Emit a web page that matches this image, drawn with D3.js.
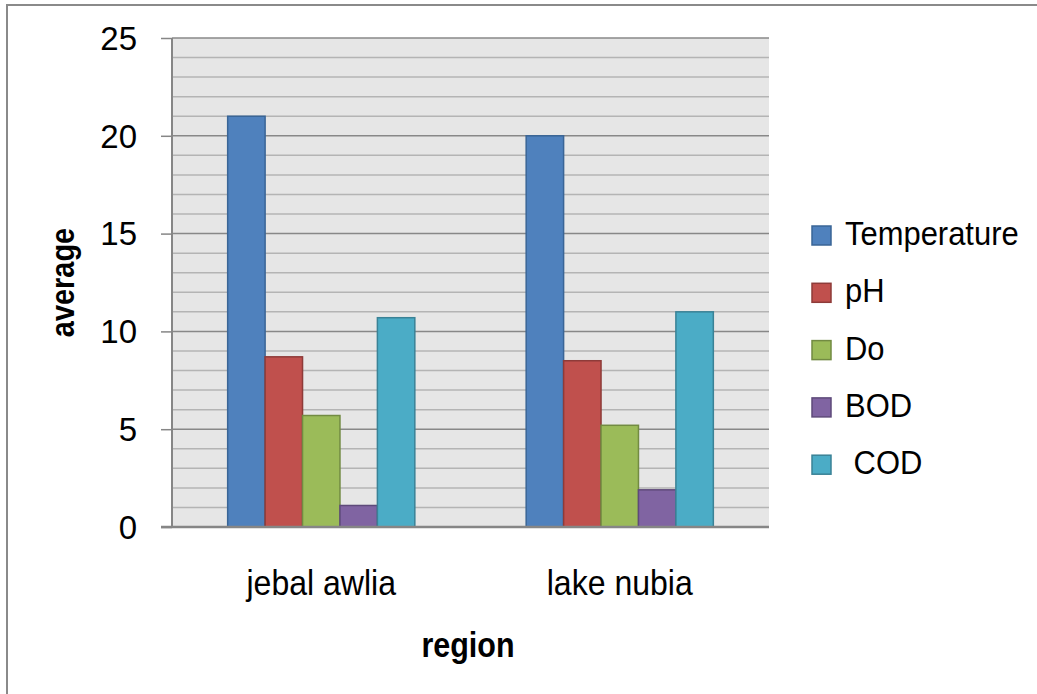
<!DOCTYPE html>
<html>
<head>
<meta charset="utf-8">
<script src="https://cdn.jsdelivr.net/npm/d3@7"></script>
<style>
  html, body { margin: 0; padding: 0; background: #fff; }
  svg { display: block; }
</style>
</head>
<body>
<svg id="chart" width="1037" height="694"></svg>
<script>
// Average water-quality parameters per region
const regions = ["jebal awlia", "lake nubia"];
const parameters = ["Temperature", "pH", "Do", "BOD", " COD"];
const temperature = [21, 20];
const ph = [8.7, 8.5];
const dissolvedOxygen = [5.7, 5.2];
const bod = [1.1, 1.9];
const cod = [10.7, 11.0];
const majorTicks = [0, 5, 10, 15, 20, 25];

const seriesValues = [temperature, ph, dissolvedOxygen, bod, cod];
const fills = ["#4F81BD", "#C0504D", "#9BBB59", "#8064A2", "#4BACC6"];
const strokes = ["#3A6596", "#8E3B39", "#728B42", "#5E4A7A", "#3A8296"];

const sans = "'Liberation Sans', Arial, sans-serif";

const svg = d3.select("#chart");

// outer chart frame
svg.append("rect")
  .attr("x", 7).attr("y", 5).attr("width", 1100).attr("height", 800)
  .attr("fill", "none").attr("stroke", "#8a8a8a").attr("stroke-width", 2);

const plot = { left: 172, right: 769, top: 38, bottom: 527 };

const y = d3.scaleLinear().domain([0, 25]).range([plot.bottom, plot.top]);
const x0 = d3.scaleBand().domain(regions).range([plot.left, plot.right])
  .paddingInner(0.373).paddingOuter(0.1865);
const x1 = d3.scaleBand().domain(parameters).range([0, x0.bandwidth()]);

// condensed text helper: horizontal squeeze around the anchor point
function condensed(sel, x, y, sx, rotate) {
  return sel.attr("x", 0).attr("y", 0)
    .attr("transform", `translate(${x},${y})${rotate ? ` rotate(${rotate})` : ""} scale(${sx},1)`);
}

// plot background
svg.append("rect")
  .attr("x", plot.left).attr("y", plot.top)
  .attr("width", plot.right - plot.left).attr("height", plot.bottom - plot.top)
  .attr("fill", "#e6e6e6");

// minor gridlines every unit
const minor = d3.range(1, 25).filter(v => v % 5 !== 0);
svg.append("g").selectAll("line").data(minor).join("line")
  .attr("x1", plot.left).attr("x2", plot.right)
  .attr("y1", d => y(d)).attr("y2", d => y(d))
  .attr("stroke", "#b4b4b4").attr("stroke-width", 1.5);

// major gridlines
svg.append("g").selectAll("line").data(majorTicks.filter(v => v > 0)).join("line")
  .attr("x1", plot.left).attr("x2", plot.right)
  .attr("y1", d => y(d)).attr("y2", d => y(d))
  .attr("stroke", "#888888").attr("stroke-width", 1.5);

// bars
const groups = svg.append("g").selectAll("g").data(regions).join("g")
  .attr("transform", r => `translate(${x0(r)},0)`);
groups.selectAll("rect")
  .data((r, ri) => parameters.map((p, pi) => ({ p, pi, v: seriesValues[pi][ri] })))
  .join("rect")
  .attr("x", d => x1(d.p))
  .attr("y", d => y(d.v))
  .attr("width", x1.bandwidth())
  .attr("height", d => y(0) - y(d.v))
  .attr("fill", d => fills[d.pi])
  .attr("stroke", d => strokes[d.pi])
  .attr("stroke-width", 1.5);

// y axis
const yAxis = svg.append("g")
  .attr("transform", `translate(${plot.left},0)`)
  .call(d3.axisLeft(y).tickValues(majorTicks).tickSize(11).tickPadding(24));
yAxis.select(".domain").attr("stroke", "#868686").attr("stroke-width", 2)
  .attr("d", `M0,${plot.top}V${plot.bottom}`);
yAxis.selectAll(".tick line").attr("stroke", "#868686").attr("stroke-width", 1.5);
yAxis.selectAll(".tick text")
  .attr("font-family", sans).attr("font-size", 33).attr("fill", "#000")
  .attr("dy", "0.34em");

// baseline
svg.append("line")
  .attr("x1", plot.left - 11).attr("x2", plot.right)
  .attr("y1", y(0)).attr("y2", y(0))
  .attr("stroke", "#868686").attr("stroke-width", 2.5);

// category labels
svg.append("g").selectAll("text").data(regions).join("text")
  .each(function (r) {
    condensed(d3.select(this), x0(r) + x0.bandwidth() / 2, 595, 0.89);
  })
  .attr("text-anchor", "middle")
  .attr("font-family", sans).attr("font-size", 36)
  .text(r => r);

// axis titles
condensed(svg.append("text"), 468, 657, 0.87)
  .attr("text-anchor", "middle")
  .attr("font-family", sans).attr("font-size", 35).attr("font-weight", "bold")
  .text("region");

condensed(svg.append("text"), 74, (plot.top + plot.bottom) / 2, 0.85, -90)
  .attr("text-anchor", "middle")
  .attr("font-family", sans).attr("font-size", 34).attr("font-weight", "bold")
  .text("average");

// legend
const legend = svg.append("g").selectAll("g").data(parameters).join("g")
  .attr("transform", (p, i) => `translate(812,${226 + i * 57.3})`);
legend.append("rect")
  .attr("width", 19).attr("height", 19)
  .attr("fill", (p, i) => fills[i])
  .attr("stroke", (p, i) => strokes[i]).attr("stroke-width", 1.5);
legend.append("text")
  .each(function () { condensed(d3.select(this), 33, 19, 0.91); })
  .attr("font-family", sans).attr("font-size", 34)
  .attr("xml:space", "preserve")
  .style("white-space", "pre")
  .text(p => p);
</script>
</body>
</html>
